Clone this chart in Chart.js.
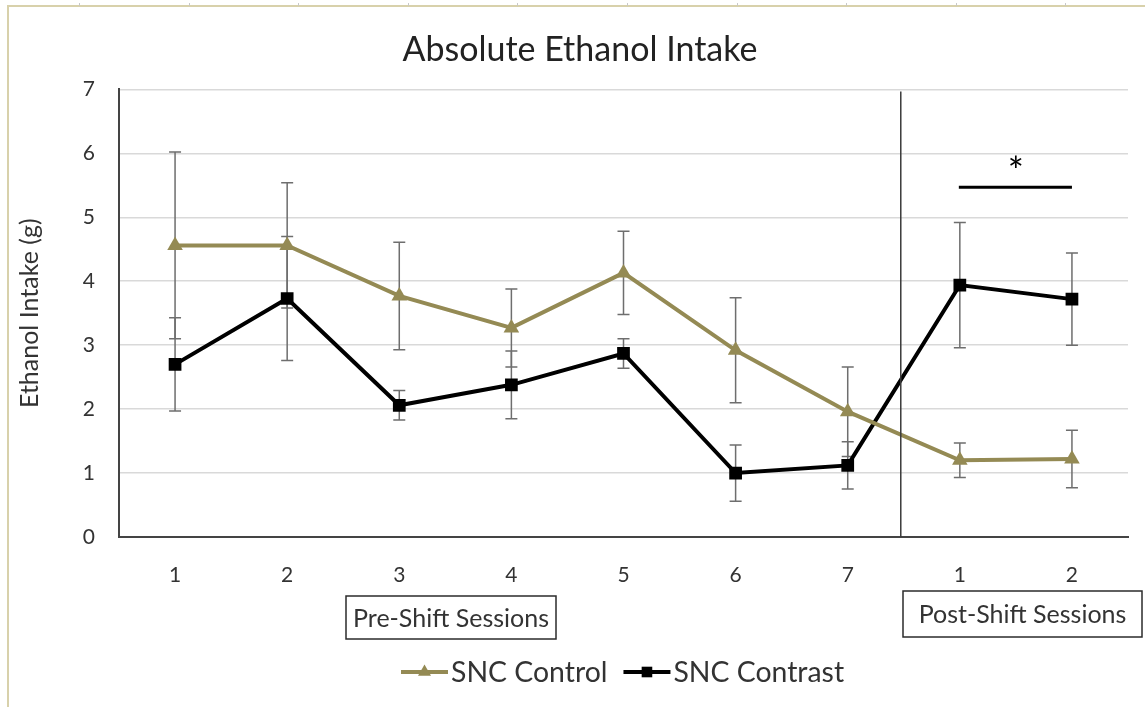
<!DOCTYPE html>
<html>
<head>
<meta charset="utf-8">
<script src="https://cdn.jsdelivr.net/npm/chart.js@4.4.1/dist/chart.umd.min.js"></script>
<style>
  html, body { margin: 0; padding: 0; background: #fff; }
  #wrap { width: 1145px; height: 707px; }
</style>
</head>
<body>
<div id="wrap"><canvas id="c" width="1145" height="707"></canvas></div>
<script>
// sessions: 7 pre-shift, 2 post-shift
const sessions = ['1', '2', '3', '4', '5', '6', '7', '1', '2'];
const controlMean = [4.56, 4.56, 3.77, 3.27, 4.13, 2.92, 1.96, 1.20, 1.22];
const controlErr = [1.46, 0.98, 0.84, 0.61, 0.65, 0.82, 0.70, 0.27, 0.45];
const contrastMean = [2.70, 3.73, 2.06, 2.38, 2.87, 1.00, 1.12, 3.94, 3.72];
const contrastErr = [0.73, 0.97, 0.23, 0.53, 0.23, 0.44, 0.37, 0.98, 0.72];
const yTicks = [0, 1, 2, 3, 4, 5, 6, 7];
const errors = [controlErr, contrastErr];

const TAN = '#948a54';
const FONT = 'Lato, "Open Sans", sans-serif';
const TEXT = '#333333';

// page frame + white background
const framePlugin = {
  id: 'frame',
  beforeDraw(chart) {
    const ctx = chart.ctx;
    ctx.save();
    ctx.fillStyle = '#fff';
    ctx.fillRect(0, 0, chart.width, chart.height);
    ctx.strokeStyle = '#d8d1ab';
    ctx.lineWidth = 2;
    ctx.beginPath();
    ctx.moveTo(7, 6); ctx.lineTo(chart.width, 6);
    ctx.moveTo(8, 6); ctx.lineTo(8, chart.height);
    ctx.stroke();
    ctx.strokeStyle = '#c8c8c8';
    ctx.lineWidth = 1;
    for (let x = 79; x < chart.width; x += 109.6) {
      ctx.beginPath(); ctx.moveTo(Math.round(x) + 0.5, 3); ctx.lineTo(Math.round(x) + 0.5, 6); ctx.stroke();
    }
    ctx.restore();
  }
};

// error bars, drawn under the lines
const errorBarPlugin = {
  id: 'errorBars',
  beforeDatasetsDraw(chart) {
    const ctx = chart.ctx;
    const y = chart.scales.y;
    ctx.save();
    ctx.strokeStyle = '#6e6e6e';
    ctx.lineWidth = 1.5;
    chart.data.datasets.forEach((ds, di) => {
      const meta = chart.getDatasetMeta(di);
      meta.data.forEach((pt, i) => {
        const v = ds.data[i], e = errors[di][i];
        const top = y.getPixelForValue(v + e), bot = y.getPixelForValue(v - e);
        ctx.beginPath();
        ctx.moveTo(pt.x, top); ctx.lineTo(pt.x, bot);
        ctx.moveTo(pt.x - 6, top); ctx.lineTo(pt.x + 6, top);
        ctx.moveTo(pt.x - 6, bot); ctx.lineTo(pt.x + 6, bot);
        ctx.stroke();
      });
    });
    ctx.restore();
  }
};

// separator, significance bar, session boxes, legend
const extrasPlugin = {
  id: 'extras',
  afterDraw(chart) {
    const ctx = chart.ctx;
    const x = chart.scales.x, y = chart.scales.y;
    const area = chart.chartArea;
    ctx.save();

    // pre / post separator
    const sepX = (x.getPixelForValue(6) + x.getPixelForValue(7)) / 2 - 3;
    ctx.strokeStyle = '#3a3a3a';
    ctx.lineWidth = 1.5;
    ctx.beginPath();
    ctx.moveTo(sepX, area.top + 2); ctx.lineTo(sepX, area.bottom);
    ctx.stroke();

    // significance
    const sy = y.getPixelForValue(5.47);
    ctx.strokeStyle = '#000';
    ctx.lineWidth = 3;
    ctx.beginPath();
    ctx.moveTo(x.getPixelForValue(7) - 1, sy); ctx.lineTo(x.getPixelForValue(8), sy);
    ctx.stroke();
    ctx.fillStyle = '#000';
    ctx.font = '38px ' + FONT;
    ctx.textAlign = 'center';
    ctx.textBaseline = 'alphabetic';
    ctx.fillText('*', (x.getPixelForValue(7) + x.getPixelForValue(8)) / 2, y.getPixelForValue(5.5));

    // session boxes
    const box = (l, t, r, b, label) => {
      ctx.strokeStyle = '#2b2b2b';
      ctx.lineWidth = 1.5;
      ctx.strokeRect(l, t, r - l, b - t);
      ctx.fillStyle = TEXT;
      ctx.font = '25px ' + FONT;
      ctx.textAlign = 'center';
      ctx.textBaseline = 'middle';
      ctx.fillText(label, (l + r) / 2, (t + b) / 2 + 1);
    };
    box(346, 596, 556, 639, 'Pre-Shift Sessions');
    box(903, 591, 1142, 637, 'Post-Shift Sessions');

    // legend
    const ly = 672;
    let lx = 401;
    ctx.font = '28.4px ' + FONT;
    ctx.textAlign = 'left';
    ctx.textBaseline = 'middle';
    chart.data.datasets.forEach((ds) => {
      ctx.strokeStyle = ds.borderColor;
      ctx.lineWidth = ds.borderWidth;
      ctx.beginPath();
      ctx.moveTo(lx, ly); ctx.lineTo(lx + 47, ly);
      ctx.stroke();
      ctx.fillStyle = ds.pointBackgroundColor;
      Chart.helpers.drawPoint(ctx, {
        pointStyle: ds.pointStyle, radius: ds.pointRadius - 1.5, rotation: 0, borderWidth: 0
      }, lx + 23.5, ly);
      ctx.fillStyle = TEXT;
      ctx.fillText(ds.label, lx + 50, ly + 1);
      lx += 50 + ctx.measureText(ds.label).width + 16;
    });
    ctx.restore();
  }
};

new Chart(document.getElementById('c'), {
  type: 'line',
  data: {
    labels: sessions,
    datasets: [
      {
        label: 'SNC Control',
        data: controlMean,
        borderColor: TAN,
        backgroundColor: TAN,
        pointBackgroundColor: TAN,
        borderWidth: 4,
        pointStyle: 'triangle',
        pointRadius: 9,
        pointBorderWidth: 0,
        tension: 0
      },
      {
        label: 'SNC Contrast',
        data: contrastMean,
        borderColor: '#000000',
        backgroundColor: '#000000',
        pointBackgroundColor: '#000000',
        borderWidth: 4,
        pointStyle: 'rect',
        pointRadius: 9,
        pointBorderWidth: 0,
        tension: 0
      }
    ]
  },
  options: {
    responsive: false,
    animation: false,
    // left padding keeps the title centred like the original; y axis width makes up the rest
    layout: { padding: { left: 32, right: 17, top: 6, bottom: 110 } },
    plugins: {
      legend: { display: false },
      tooltip: { enabled: false },
      title: {
        display: true,
        text: 'Absolute Ethanol Intake',
        color: '#222',
        font: { family: FONT, size: 34, weight: 'normal', lineHeight: 1.1 },
        padding: { top: 25, bottom: 21 }
      }
    },
    scales: {
      x: {
        type: 'category',
        offset: true,
        grid: { display: false, drawTicks: false },
        border: { display: true, color: '#444', width: 2 },
        ticks: { color: TEXT, font: { family: FONT, size: 21 }, padding: 26, maxRotation: 0, autoSkip: false },
        afterFit(s) { s.height = 60; }
      },
      y: {
        min: 0,
        max: 7,
        afterBuildTicks(s) { s.ticks = yTicks.map(v => ({ value: v })); },
        grid: { color: '#d9d9d9', lineWidth: 1.5, drawTicks: false },
        border: { display: true, color: '#444', width: 2 },
        ticks: { color: TEXT, font: { family: FONT, size: 21 }, padding: 24 },
        title: {
          display: true,
          text: 'Ethanol Intake (g)',
          color: TEXT,
          font: { family: FONT, size: 25 },
          padding: { top: -17, bottom: 0 }
        },
        afterFit(s) { s.width = 87; }
      }
    }
  },
  plugins: [framePlugin, errorBarPlugin, extrasPlugin]
});
</script>
</body>
</html>
